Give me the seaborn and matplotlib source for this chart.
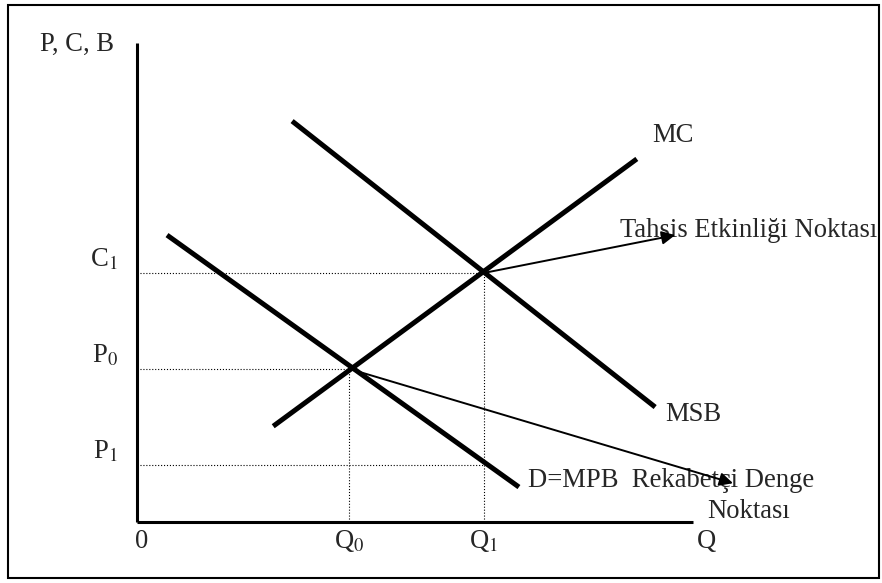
import matplotlib
matplotlib.use('Agg')
import matplotlib.pyplot as plt
import seaborn as sns
import pandas as pd
from matplotlib.patches import Rectangle

# ---- data (axis units 0..100) ----
curve_names = ['MC', 'MSB', 'D=MPB']
curve_x = [[24.5, 89.9], [27.9, 93.2], [5.4, 68.7]]
curve_y = [[20.0, 75.8], [83.7, 24.0], [59.9, 7.3]]

q0, q1 = 38.1, 62.4
p0, c1, p1 = 32.0, 52.0, 12.0

y_tick_labels = ['C$_1$', 'P$_0$', 'P$_1$']
y_tick_values = [c1, p0, p1]
x_tick_labels = ['0', 'Q$_0$', 'Q$_1$', 'Q']
x_tick_values = [0.9, q0, q1, 102.5]

# arrow start points (equilibria) and label ends
arrow_from = [(q1, c1), (q0, p0)]
arrow_to = [(96.8, 59.9), (107.2, 8.1)]

sns.set_style('white')
plt.rcParams['font.family'] = ['Liberation Serif', 'DejaVu Serif']
plt.rcParams['mathtext.fontset'] = 'stix'

fig = plt.figure(figsize=(8.82, 5.83), dpi=100)
ax = fig.add_axes([0, 0, 1, 1])

# outer frame
ax.add_patch(Rectangle((8 / 882, 5 / 583), 871 / 882, 573 / 583,
                       transform=ax.transAxes, fill=False, lw=1.5,
                       ec='black'))

# axes
ax.plot([0, 0], [0, 100], color='black', lw=2.2, solid_capstyle='butt')
ax.plot([0, 100], [0, 0], color='black', lw=2.2, solid_capstyle='butt')

# dotted guides
ax.plot([0, q1], [c1, c1], color='black', lw=0.8, ls=':')
ax.plot([0, q0], [p0, p0], color='black', lw=0.8, ls=':')
ax.plot([0, q1], [p1, p1], color='black', lw=0.8, ls=':')
ax.plot([q0, q0], [0, p0], color='black', lw=0.8, ls=':')
ax.plot([q1, q1], [0, c1], color='black', lw=0.8, ls=':')

# curves
rows = []
for name, xs, ys in zip(curve_names, curve_x, curve_y):
    for x, y in zip(xs, ys):
        rows.append({'curve': name, 'x': x, 'y': y})
df = pd.DataFrame(rows)
sns.lineplot(data=df, x='x', y='y', units='curve', estimator=None,
             color='black', lw=3.6, sort=False, ax=ax,
             solid_capstyle='butt')
ax.set_xlim(-24.64, 134.0)
ax.set_ylim(-12.73, 108.98)
ax.axis('off')

fs = 19.2
# axis labels
ax.text(-10.8, 98.4, 'P, C, B', fontsize=fs, ha='center', va='baseline')
for lab, v in zip(y_tick_labels, y_tick_values):
    ax.text(-3.4, v + 1.3, lab, fontsize=fs, ha='right', va='baseline')
for lab, v in zip(x_tick_labels, x_tick_values):
    ax.text(v, -5.4, lab, fontsize=fs, ha='center', va='baseline')

# curve labels
ax.text(92.6, 79.3, 'MC', fontsize=fs, va='baseline')
ax.text(95.0, 21.0, 'MSB', fontsize=fs, va='baseline')
ax.text(70.3, 7.4, 'D=MPB  Rekabetçi Denge', fontsize=fs, va='baseline')
ax.text(102.5, 0.9, 'Noktası', fontsize=fs, va='baseline')
ax.text(86.9, 59.4, 'Tahsis Etkinliği Noktası', fontsize=fs,
        va='baseline')

for (x0, y0), (x1, y1) in zip(arrow_from, arrow_to):
    ax.annotate('', xy=(x1, y1), xytext=(x0, y0),
                arrowprops=dict(arrowstyle='-|>', lw=1.4, color='black',
                                mutation_scale=20, shrinkA=0, shrinkB=0))

fig.savefig('out.png', dpi=100)
